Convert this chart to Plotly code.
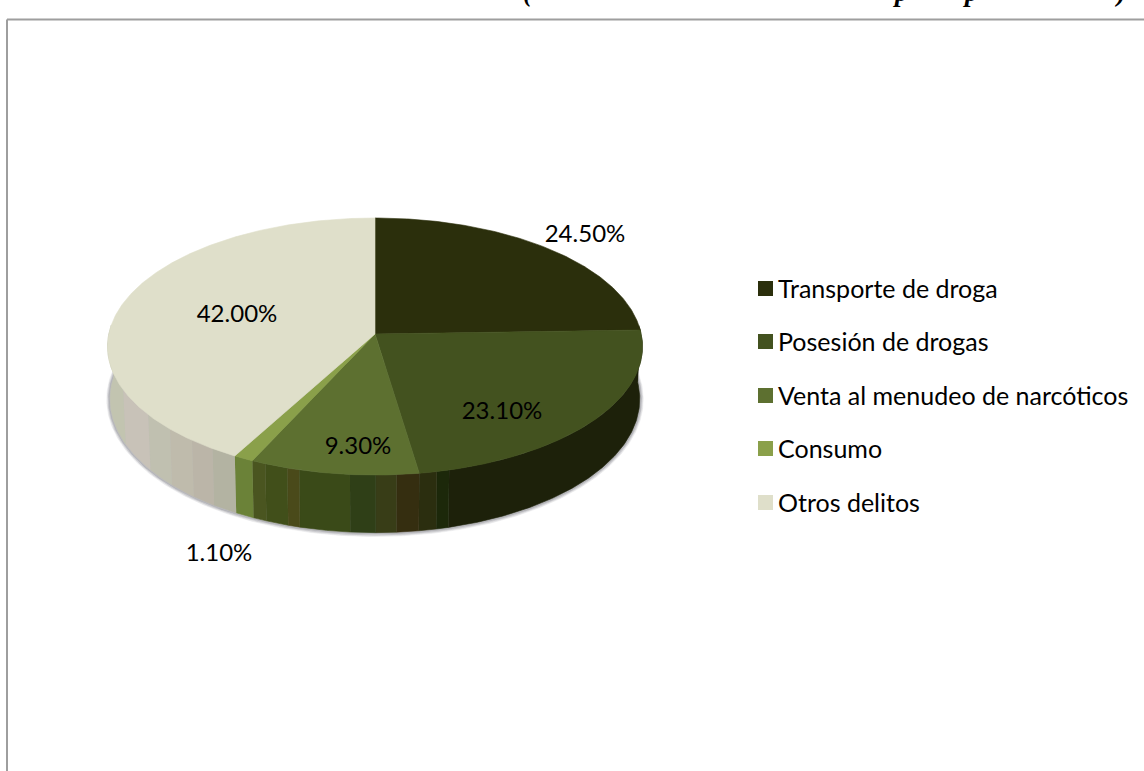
import math
import plotly.graph_objects as go

# ---- data ----
categories = ["Transporte de droga", "Posesión de drogas", "Venta al menudeo de narcóticos", "Consumo", "Otros delitos"]
values = [24.5, 23.1, 9.3, 1.1, 42.0]

# ---- styling ----
top_colors = ["#2B2F0C", "#43521F", "#5D7030", "#8AA04A", "#DFDFCA"]
# (colour, angular weight) per slice, walking clockwise along the rim
side_bands = [
    [("#1D210A", 1)],
    [("#1D210A", 77.5), ("#1C280A", 2.5), ("#2B2E0F", 3.5)],
    [("#352E10", 22), ("#383D17", 20), ("#2F3F17", 25), ("#3A4A18", 50),
     ("#4A4A1A", 12), ("#414F1A", 23), ("#4A5520", 14)],
    [("#6B8238", 1)],
    [("#B3B3A2", 5), ("#BBB5A8", 5), ("#BFBBAC", 6), ("#C0C0B0", 7), ("#C8C2B8", 11), ("#C2C4B0", 27)],
]
FONT = "Lato, Carlito, Calibri, sans-serif"
LABEL_SIZE = 24
LEGEND_SIZE = 25

# projection of the pie disc into the page (pixel-valued axes)
CX, CY = 375.0, 334.0
A, B, K, DEPTH = 266.2, 127.3, 0.0973, 52.0


def rim(theta, radius_add=0.0, lower=False):
    u, v = math.sin(theta), math.cos(theta)
    w = 1 + K * v
    x = (A + radius_add) * u / w
    y = -(B + radius_add) * v / w
    if lower:
        x *= 0.99
        y += DEPTH / w
    return CX + x, CY + y


def arc(t0, t1, **kw):
    n = max(2, int(abs(t1 - t0) / 0.01))
    return [rim(t0 + (t1 - t0) * i / n, **kw) for i in range(n + 1)]


def poly_trace(points, color):
    return go.Scatter(
        x=[p[0] for p in points], y=[p[1] for p in points], mode="lines",
        fill="toself", fillcolor=color, line=dict(color=color, width=0.6),
        showlegend=False, hoverinfo="skip",
    )


total = sum(values)
bounds = [0.0]
for val in values:
    bounds.append(bounds[-1] + val / total * 2 * math.pi)

traces = []

# soft shadow below the lower rim
for add, alpha in ((3.5, 0.10), (2.5, 0.16), (1.5, 0.22)):
    pts = arc(math.radians(80), math.radians(280), radius_add=add, lower=True)
    traces.append(poly_trace(pts, f"rgba(90,90,100,{alpha})"))

# side wall, only the part that faces the viewer
VIS0, VIS1 = math.radians(86), math.radians(274)
for i in range(len(values)):
    t0, t1 = max(bounds[i], VIS0), min(bounds[i + 1], VIS1)
    if t1 <= t0:
        continue
    bands = side_bands[i]
    weight = sum(b[1] for b in bands)
    done = 0.0
    for col, wgt in bands:
        a = t0 + (t1 - t0) * done / weight
        done += wgt
        b = t0 + (t1 - t0) * done / weight
        traces.append(poly_trace(arc(a, b) + arc(b, a, lower=True), col))

# top faces
for i in range(len(values)):
    pts = [(CX, CY)] + arc(bounds[i], bounds[i + 1]) + [(CX, CY)]
    traces.append(poly_trace(pts, top_colors[i]))

# data labels
label_x = [585, 502, 358, 219, 237]
label_y = [236, 413, 448, 555, 316]
traces.append(go.Scatter(
    x=label_x, y=label_y, mode="text", text=[f"{v:.2f}%" for v in values],
    textposition="middle center", textfont=dict(family=FONT, size=LABEL_SIZE, color="#000000"),
    showlegend=False, hoverinfo="skip", cliponaxis=False,
))

# legend column
legend_x = [765.5] * 5
legend_text_x = [778] * 5
legend_y = [288.5, 341.5, 395.5, 448.5, 502.5]
legend_text_y = [291.5, 344.5, 398.5, 451.5, 505.5]
traces.append(go.Scatter(
    x=legend_x, y=legend_y, mode="markers",
    marker=dict(symbol="square", size=15, color=top_colors, line=dict(width=0)),
    showlegend=False, hoverinfo="skip", cliponaxis=False,
))
traces.append(go.Scatter(
    x=legend_text_x, y=legend_text_y, mode="text", text=categories,
    textposition="middle right", textfont=dict(family=FONT, size=LEGEND_SIZE, color="#000000"),
    showlegend=False, hoverinfo="skip", cliponaxis=False,
))

fig = go.Figure(traces)

# feet of the title line cut off by the page top
title_glyphs = [("(", 528), ("p", 901), ("p", 971), (")", 1120)]
annotations = [
    dict(text=f"<b><i>{g}</i></b>", x=gx, xref="x", xanchor="center", y=1, yref="paper",
         yanchor="bottom", yshift=-9, showarrow=False,
         font=dict(family="Liberation Serif", size=27, color="#000000"))
    for g, gx in title_glyphs
]

fig.update_layout(
    width=1144, height=771, autosize=False,
    margin=dict(l=0, r=0, t=0, b=0),
    paper_bgcolor="#FFFFFF", plot_bgcolor="#FFFFFF",
    xaxis=dict(range=[0, 1144], visible=False, fixedrange=True),
    yaxis=dict(range=[771, 0], visible=False, fixedrange=True),
    showlegend=False,
    annotations=annotations,
    shapes=[
        dict(type="line", x0=7, x1=1144, y0=19.5, y1=19.5, xref="x", yref="y", line=dict(color="#9E9E9E", width=2)),
        dict(type="line", x0=7, x1=7, y0=19.5, y1=771, xref="x", yref="y", line=dict(color="#9E9E9E", width=2)),
    ],
)
fig.write_html("out.html", config={"displayModeBar": False},
               post_script="document.body.style.margin='0';document.body.style.overflow='hidden';")
